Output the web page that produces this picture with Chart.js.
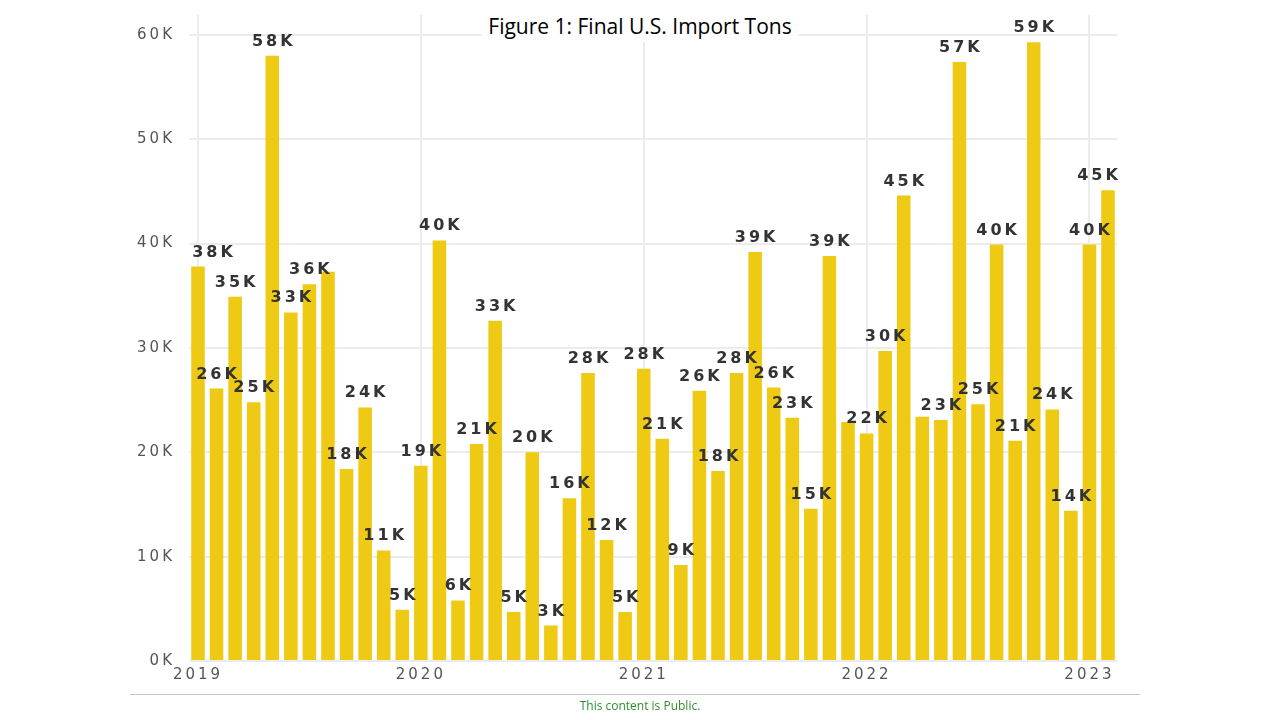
<!DOCTYPE html>
<html>
<head>
<meta charset="utf-8">
<script src="https://cdn.jsdelivr.net/npm/chart.js@4.4.1/dist/chart.umd.min.js"></script>
<style>
  html, body { margin: 0; padding: 0; background: #fff; }
  #wrap { position: relative; width: 1280px; height: 720px; overflow: hidden; }
  #chart { position: absolute; left: 0; top: 0; }
  #title {
    position: absolute; left: 482px; top: 11px; width: 316px; height: 31px;
    background: #fff; font-family: "Open Sans"; font-size: 21px; color: #000;
    text-align: center; line-height: 31px; white-space: nowrap;
  }
  #rule { position: absolute; left: 130px; top: 694px; width: 1010px; height: 1px; background: #c6c6c6; }
  #note {
    position: absolute; left: 0; width: 1280px; top: 697px; text-align: center;
    font-family: "Open Sans"; font-size: 12px; color: #2f8f2f;
  }
</style>
</head>
<body>
<div id="wrap">
  <canvas id="chart" width="1280" height="720"></canvas>
  <div id="title">Figure 1: Final U.S. Import Tons</div>
  <div id="rule"></div>
  <div id="note">This content is Public.</div>
</div>
<script>
const months = [
  "2019-01", "2019-02", "2019-03", "2019-04", "2019-05", "2019-06", "2019-07", "2019-08", "2019-09", "2019-10", "2019-11", "2019-12",
  "2020-01", "2020-02", "2020-03", "2020-04", "2020-05", "2020-06", "2020-07", "2020-08", "2020-09", "2020-10", "2020-11", "2020-12",
  "2021-01", "2021-02", "2021-03", "2021-04", "2021-05", "2021-06", "2021-07", "2021-08", "2021-09", "2021-10", "2021-11", "2021-12",
  "2022-01", "2022-02", "2022-03", "2022-04", "2022-05", "2022-06", "2022-07", "2022-08", "2022-09", "2022-10", "2022-11", "2022-12",
  "2023-01", "2023-02"
];

const tons = [
  37800, 26100, 34900, 24800, 58000, 33400, 36100, 37300, 18400, 24300,
  10600, 4900, 18700, 40300, 5800, 20800, 32600, 4700, 20000, 3400,
  15600, 27600, 11600, 4700, 28000, 21300, 9200, 25900, 18200, 27600,
  39200, 26200, 23300, 14600, 38800, 22900, 21800, 29700, 44600, 23400,
  23100, 57400, 24600, 39900, 21100, 59300, 24100, 14400, 39900, 45100
];

// labels that the original hides because they collide with a neighbour
const hiddenLabels = [7, 35, 39];

const yTicks = [0, 10000, 20000, 30000, 40000, 50000, 60000];

const SPACING = 3;
const LABEL_SPACING = 3;

const isJanuary = i => months[i] && months[i].endsWith("-01");

const spacingPlugin = {
  id: "spacing",
  beforeUpdate(chart) { chart.ctx.letterSpacing = SPACING + "px"; },
  beforeDraw(chart) { chart.ctx.letterSpacing = SPACING + "px"; }
};

const barLabels = {
  id: "barLabels",
  afterDatasetsDraw(chart) {
    const ctx = chart.ctx;
    const area = chart.chartArea;
    const meta = chart.getDatasetMeta(0);
    ctx.save();
    ctx.letterSpacing = LABEL_SPACING + "px";
    ctx.font = 'bold 16px "DejaVu Sans"';
    ctx.fillStyle = "#333333";
    ctx.textAlign = "center";
    ctx.textBaseline = "alphabetic";
    meta.data.forEach((bar, i) => {
      if (hiddenLabels.includes(i)) return;
      const text = Math.round(tons[i] / 1000) + "K";
      const w = ctx.measureText(text).width;
      const x = Math.min(Math.max(bar.x, area.left + 2 + w / 2), area.right + 2 - w / 2);
      ctx.fillText(text, x + LABEL_SPACING / 2, bar.y - 10);
    });
    ctx.restore();
  }
};

new Chart(document.getElementById("chart"), {
  type: "bar",
  data: {
    labels: months,
    datasets: [
      {
        data: tons,
        backgroundColor: "#EFCA14",
        borderWidth: 0,
        barPercentage: 0.73,
        categoryPercentage: 1
      }
    ]
  },
  options: {
    responsive: false,
    animation: false,
    layout: {
      padding: { left: 128.7, right: 162.7, top: 15, bottom: 29 }
    },
    plugins: {
      legend: { display: false },
      tooltip: { enabled: false }
    },
    scales: {
      x: {
        offset: true,
        afterFit(scale) { scale.height = 30; },
        border: { display: false },
        grid: {
          offset: false,
          drawTicks: false,
          lineWidth: 2,
          color: c => (isJanuary(c.index) ? "#ececec" : "rgba(0,0,0,0)")
        },
        ticks: {
          autoSkip: false,
          maxRotation: 0,
          minRotation: 0,
          padding: 5,
          color: "#555555",
          font: { family: "DejaVu Sans", size: 15 },
          callback: (v, i) => (isJanuary(i) ? months[i].slice(0, 4) : "")
        }
      },
      y: {
        min: 0,
        max: 61900,
        afterFit(scale) {
          scale.width = 60;
          scale.paddingTop = 0;
          scale.paddingBottom = 0;
        },
        afterBuildTicks(scale) { scale.ticks = yTicks.map(v => ({ value: v })); },
        border: { display: false },
        grid: {
          drawTicks: false,
          lineWidth: 2,
          color: "#ececec"
        },
        ticks: {
          padding: 13.7,
          color: "#555555",
          font: { family: "DejaVu Sans", size: 15 },
          callback: v => v / 1000 + "K"
        }
      }
    }
  },
  plugins: [spacingPlugin, barLabels]
});
</script>
</body>
</html>
